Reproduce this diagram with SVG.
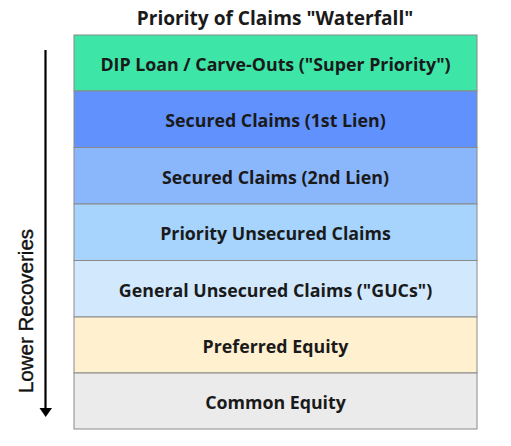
<svg xmlns="http://www.w3.org/2000/svg" width="511" height="446" viewBox="0 0 511 446">
<style>
.box{stroke:#8a8a8a;stroke-width:1}
.t{font-family:"Open Sans","Liberation Sans",sans-serif;font-weight:bold;font-size:17.8px;fill:#1a1a1a;text-anchor:middle;dominant-baseline:central}
.title{font-family:"Open Sans","Liberation Sans",sans-serif;font-weight:bold;font-size:19.1px;fill:#1a1a1a;text-anchor:middle}
.axis{font-family:"Liberation Sans",Arial,sans-serif;font-size:20.5px;fill:#111;text-anchor:middle;stroke:#111;stroke-width:0.4}
</style>
<rect width="511" height="446" fill="#fff"/>
<text class="title" x="275" y="25">Priority of Claims "Waterfall"</text>
<g id="n1"><rect class="box" x="74" y="35" width="403" height="56" fill="#3de5a7"/><text class="t" x="275.5" y="64">DIP Loan / Carve-Outs ("Super Priority")</text></g>
<g id="n2"><rect class="box" x="74" y="91" width="403" height="56.5" fill="#6191fd"/><text class="t" x="275.5" y="120.3">Secured Claims (1st Lien)</text></g>
<g id="n3"><rect class="box" x="74" y="147.5" width="403" height="56.5" fill="#8ab6fb"/><text class="t" x="275.5" y="176.8">Secured Claims (2nd Lien)</text></g>
<g id="n4"><rect class="box" x="74" y="204" width="403" height="56.5" fill="#a6d4fd"/><text class="t" x="275.5" y="233.3">Priority Unsecured Claims</text></g>
<g id="n5"><rect class="box" x="74" y="260.5" width="403" height="56.5" fill="#d2e9fd"/><text class="t" x="275.5" y="289.8">General Unsecured Claims ("GUCs")</text></g>
<g id="n6"><rect class="box" x="74" y="317" width="403" height="56" fill="#fff0cf"/><text class="t" x="275.5" y="346">Preferred Equity</text></g>
<g id="n7"><rect class="box" x="74" y="373" width="403" height="56" fill="#ebebeb"/><text class="t" x="275.5" y="402">Common Equity</text></g>
<g id="connectors">
<line x1="45.5" y1="50" x2="45.5" y2="409" stroke="#000" stroke-width="2.2"/>
<path d="M39.5,408 L52,408 L45.7,417 Z" fill="#000"/>
</g>
<text class="axis" x="0" y="0" transform="translate(33,311) rotate(-90)">Lower Recoveries</text>
</svg>
